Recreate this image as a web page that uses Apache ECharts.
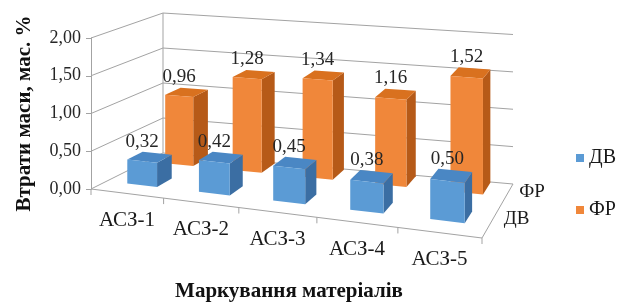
<!DOCTYPE html>
<html><head><meta charset="utf-8">
<script src="https://cdn.jsdelivr.net/npm/echarts@6/dist/echarts.min.js"></script>
<style>html,body{margin:0;padding:0;background:#fff}#c{width:626px;height:306px}</style>
</head><body><div id="c"></div>
<script>
// ---- data ----
const categories = ['АСЗ-1', 'АСЗ-2', 'АСЗ-3', 'АСЗ-4', 'АСЗ-5'];
const rowNames = ['ДВ', 'ФР'];
const valuesDV = [0.32, 0.42, 0.45, 0.38, 0.50];
const valuesFR = [0.96, 1.28, 1.34, 1.16, 1.52];
const yTicks = [0, 0.5, 1, 1.5, 2];

// ---- 3D box layout (pixel offsets relative to the grid) ----
const FR_DROP = 49;          // front-right floor corner below grid bottom
const BL_OFF = [72, -36];    // back-left corner offset from front-left
const BR_OFF = [31, -54];    // back-right corner offset from front-right
const G = -0.088;            // horizontal perspective
const SB_L = 0.927, SB_R = 0.99; // vertical scale at back wall (rel. to front-left)
const ROW_S0 = [0.222, 0.765];   // depth position of bar fronts (0..1)
const DS = 0.22;             // bar depth
const HW = 0.21;             // bar half width (category units)
const NCAT = categories.length;

const SERIF = '"Liberation Serif", "Times New Roman", serif';
const GRID_COLOR = '#a3a3a3';

function makeProj(api) {
  const o = api.coord([0, 0]), e = api.coord([NCAT, 0]);
  const FL = [o[0], o[1]];
  const FR = [e[0], e[1] + FR_DROP];
  const BL = [FL[0] + BL_OFF[0], FL[1] + BL_OFF[1]];
  const BR = [FR[0] + BR_OFF[0], FR[1] + BR_OFF[1]];
  return function (u, s, h) {
    const t = (api.coord([u, 0])[0] - o[0]) / (e[0] - o[0]);
    const f = t * (1 + G) / (1 + G * t);
    const fx = FL[0] + f * (FR[0] - FL[0]), fy = FL[1] + f * (FR[1] - FL[1]);
    const bx = BL[0] + f * (BR[0] - BL[0]), by = BL[1] + f * (BR[1] - BL[1]);
    const x = fx + s * (bx - fx), y = fy + s * (by - fy);
    const sf = 1 / (1 + G * t), sb = SB_L + f * (SB_R - SB_L), sc = sf + s * (sb - sf);
    const hp = (o[1] - api.coord([0, h])[1]) * sc;
    return [x, y - hp];
  };
}

function fmt(v) { return v.toFixed(2).replace('.', ','); }

const palettes = [
  { front: '#5b9bd5', top: '#4a87c4', side: '#3b6ea3' },
  { front: '#f0873a', top: '#d9711f', side: '#b65a18' }
];

function barRenderer(row) {
  return function (params, api) {
    const P = makeProj(api);
    const u = api.value(0), h = api.value(1);
    const s0 = ROW_S0[row], s1 = s0 + DS;
    const pal = palettes[row];
    const fbl = P(u - HW, s0, 0), fbr = P(u + HW, s0, 0);
    const ftl = P(u - HW, s0, h), ftr = P(u + HW, s0, h);
    const btl = P(u - HW, s1, h), btr = P(u + HW, s1, h);
    const bbr = P(u + HW, s1, 0);
    const lx = P(u, s0, h)[0], ly = P(u, s1, h)[1] - 2;
    return {
      type: 'group',
      children: [
        { type: 'polygon', shape: { points: [fbr, bbr, btr, ftr] }, style: { fill: pal.side } },
        { type: 'polygon', shape: { points: [ftl, ftr, btr, btl] }, style: { fill: pal.top } },
        { type: 'polygon', shape: { points: [fbl, fbr, ftr, ftl] }, style: { fill: pal.front } },
        { type: 'text', x: lx, y: ly,
          style: { text: fmt(h), font: '19px ' + SERIF, fill: '#262626', align: 'center', verticalAlign: 'bottom' } }
      ]
    };
  };
}

function wallRenderer(params, api) {
  const P = makeProj(api);
  const v = api.value(1);
  return {
    type: 'polyline',
    shape: { points: [P(0, 0, v), P(0, 1, v), P(NCAT, 1, v)] },
    style: { stroke: GRID_COLOR, lineWidth: 1, fill: null }
  };
}

function frameRenderer(params, api) {
  const P = makeProj(api);
  const ch = [];
  const line = (a, b) => ch.push({ type: 'line', shape: { x1: a[0], y1: a[1], x2: b[0], y2: b[1] },
    style: { stroke: GRID_COLOR, lineWidth: 1 } });
  line(P(0, 0, 0), P(NCAT, 0, 0));
  line(P(NCAT, 0, 0), P(NCAT, 1, 0));
  line(P(0, 1, 0), P(0, 1, yTicks[yTicks.length - 1]));
  for (let i = 0; i <= NCAT; i++) {
    const p = P(i, 0, 0);
    line(p, [p[0], p[1] + 6]);
  }
  for (let i = 0; i < NCAT; i++) {
    const p = P(i + 0.5, 0, 0);
    ch.push({ type: 'text', x: p[0], y: p[1] + 27,
      style: { text: categories[i], font: '21px ' + SERIF, fill: '#1a1a1a', align: 'center', verticalAlign: 'middle' } });
  }
  for (let r = 0; r < rowNames.length; r++) {
    const p = P(NCAT, 0.25 + 0.5 * r, 0);
    ch.push({ type: 'text', x: p[0] + 14, y: p[1] - 5,
      style: { text: rowNames[r], font: '19px ' + SERIF, fill: '#1a1a1a', align: 'left', verticalAlign: 'middle' } });
  }
  return { type: 'group', children: ch };
}

const chart = echarts.init(document.getElementById('c'), null, { renderer: 'canvas' });
chart.setOption({
  animation: false,
  backgroundColor: '#fff',
  grid: { left: 91, top: 38, width: 391, height: 151, containLabel: false },
  xAxis: { type: 'value', min: 0, max: NCAT, show: false },
  yAxis: {
    type: 'value', min: 0, max: 2, interval: 0.5,
    axisLine: { show: true, lineStyle: { color: GRID_COLOR } },
    axisTick: { show: true, inside: false, length: 5, lineStyle: { color: GRID_COLOR } },
    axisLabel: { formatter: fmt, fontFamily: SERIF, fontSize: 18, color: '#262626', margin: 10 },
    splitLine: { show: false },
    name: 'Втрати маси, мас. %', nameLocation: 'middle', nameGap: 56,
    nameTextStyle: { fontFamily: SERIF, fontWeight: 'bold', fontSize: 21, color: '#111' }
  },
  legend: {
    data: rowNames, orient: 'vertical', left: 571, top: 143, itemGap: 32,
    icon: 'rect', itemWidth: 8, itemHeight: 8,
    textStyle: { fontFamily: SERIF, fontSize: 20, color: '#1a1a1a' }
  },
  graphic: [{
    type: 'text', x: 289, y: 292,
    style: { text: 'Маркування матеріалів', font: 'bold 21px ' + SERIF, fill: '#111', align: 'center', verticalAlign: 'middle' }
  }],
  series: [
    { type: 'custom', clip: false, silent: true, renderItem: wallRenderer,
      data: yTicks.map(v => [0, v]) },
    { type: 'custom', clip: false, silent: true, renderItem: frameRenderer, data: [[0, 0]] },
    { type: 'custom', name: rowNames[1], clip: false, renderItem: barRenderer(1),
      itemStyle: { color: palettes[1].front },
      data: valuesFR.map((v, i) => [i + 0.5, v]) },
    { type: 'custom', name: rowNames[0], clip: false, renderItem: barRenderer(0),
      itemStyle: { color: palettes[0].front },
      data: valuesDV.map((v, i) => [i + 0.5, v]) }
  ]
});
</script></body></html>
